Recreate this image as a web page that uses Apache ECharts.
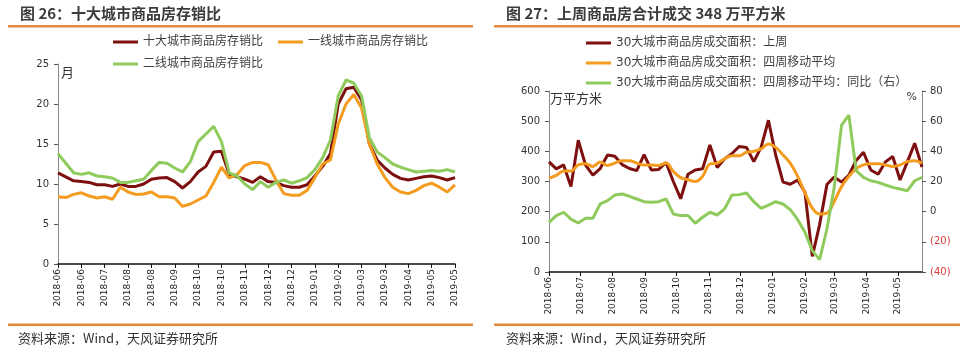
<!DOCTYPE html>
<html>
<head>
<meta charset="utf-8">
<script src="https://cdn.jsdelivr.net/npm/echarts@6/dist/echarts.min.js"></script>
<style>
  html, body { margin: 0; padding: 0; background: #fff; }
  #chart { width: 980px; height: 353px; }
</style>
</head>
<body>
<div id="chart"></div>
<script>
// weekly dates shared by both panels
const weeks = [
  '2018-06-01', '2018-06-08', '2018-06-15', '2018-06-22', '2018-06-29',
  '2018-07-06', '2018-07-13', '2018-07-20', '2018-07-27',
  '2018-08-03', '2018-08-10', '2018-08-17', '2018-08-24', '2018-08-31',
  '2018-09-07', '2018-09-14', '2018-09-21', '2018-09-28',
  '2018-10-05', '2018-10-12', '2018-10-19', '2018-10-26',
  '2018-11-02', '2018-11-09', '2018-11-16', '2018-11-23', '2018-11-30',
  '2018-12-07', '2018-12-14', '2018-12-21', '2018-12-28',
  '2019-01-04', '2019-01-11', '2019-01-18', '2019-01-25',
  '2019-02-01', '2019-02-08', '2019-02-15', '2019-02-22',
  '2019-03-01', '2019-03-08', '2019-03-15', '2019-03-22', '2019-03-29',
  '2019-04-05', '2019-04-12', '2019-04-19', '2019-04-26',
  '2019-05-03', '2019-05-10', '2019-05-17', '2019-05-24'
]

// 图26 存销比 (月)
const tenCities = [11.4, 10.9, 10.4, 10.3, 10.2, 9.9, 9.9, 9.7, 10.0, 9.7,
  9.7, 10.0, 10.6, 10.75, 10.8, 10.3, 9.5, 10.3, 11.5, 12.2,
  14.0, 14.1, 11.2, 10.9, 10.6, 10.2, 10.9, 10.3, 10.2, 9.8,
  9.6, 9.6, 9.9, 11.0, 12.2, 13.8, 20.0, 21.9, 22.1, 20.5,
  15.0, 13.0, 12.0, 11.2, 10.7, 10.5, 10.7, 10.9, 11.0, 10.8,
  10.5, 10.8]
const tier1 = [8.4, 8.3, 8.7, 8.9, 8.5, 8.25, 8.4, 8.1, 9.6, 9.0,
  8.7, 8.75, 9.0, 8.4, 8.4, 8.25, 7.2, 7.5, 8.0, 8.5,
  10.2, 12.1, 10.75, 11.2, 12.3, 12.7, 12.7, 12.4, 10.5, 8.8,
  8.6, 8.6, 9.2, 10.8, 12.5, 13.0, 17.5, 20.0, 21.2, 19.5,
  15.0, 12.5, 10.8, 9.6, 9.0, 8.8, 9.2, 9.8, 10.1, 9.6,
  9.0, 9.9]
const tier2 = [13.8, 12.6, 11.4, 11.2, 11.4, 11.0, 10.9, 10.75, 10.2, 10.2,
  10.4, 10.6, 11.7, 12.7, 12.6, 12.0, 11.5, 12.8, 15.3, 16.25,
  17.2, 15.3, 11.4, 11.0, 10.0, 9.3, 10.3, 9.6, 10.2, 10.5,
  10.1, 10.4, 10.8, 11.8, 13.3, 15.5, 21.0, 23.0, 22.6, 21.0,
  15.8, 14.0, 13.3, 12.5, 12.1, 11.8, 11.5, 11.6, 11.7, 11.6,
  11.8, 11.5]

// 图27 成交面积 (万平方米) and 同比 (%)
const weekly = [365, 342, 355, 283, 437, 354, 321, 343, 388, 384,
  356, 343, 336, 389, 338, 340, 363, 300, 243, 324,
  338, 342, 421, 346, 375, 392, 416, 413, 366, 413,
  503, 387, 298, 291, 305, 264, 52, 157, 290, 315,
  298, 321, 370, 397, 338, 324, 365, 383, 305, 365,
  427, 348]
const ma4 = [311, 320, 335, 335, 355, 359, 350, 365, 353, 361,
  369, 369, 361, 355, 355, 353, 361, 333, 313, 306,
  300, 317, 358, 361, 375, 385, 385, 397, 400, 408,
  424, 413, 388, 360, 317, 262, 212, 192, 195, 234,
  283, 317, 342, 355, 359, 359, 355, 350, 355, 366,
  369, 361]
const ma4Yoy = [-7.1, -2.6, -0.4, -4.9, -7.5, -4.4, -4.4, 5.1, 7.3, 11.0,
  11.7, 10.2, 8.4, 6.6, 6.2, 6.6, 8.4, -1.5, -2.6, -2.6,
  -7.7, -3.7, -0.4, -2.2, 1.8, 11.0, 11.3, 12.4, 6.6, 2.2,
  4.4, 6.6, 5.1, 1.3, -5.3, -13.7, -25.8, -31.8, -11.5, 16.1,
  57.4, 64.0, 27.2, 22.7, 20.5, 19.4, 17.7, 16.1, 15.0, 13.9,
  20.5, 22.7]

const C_RED = '#7d0f0f'
const C_ORANGE = '#f39c1f'
const C_GREEN = '#8fcb5c'
const RULE = '#e38a3c'
const FONT = "'DejaVu Sans', 'Noto Sans CJK SC', sans-serif"
const CJK = "'Noto Sans CJK SC', sans-serif"

const ym = (d) => {
  const t = new Date(d)
  return t.getFullYear() + '-' + String(t.getMonth() + 1).padStart(2, '0')
}
const pairs = (vals) => weeks.map((d, i) => [d, vals[i]])

const chart = echarts.init(document.getElementById('chart'))

const legendBase = {
  icon: 'rect',
  itemWidth: 25,
  itemHeight: 3,
  itemGap: 15,
  padding: 0,
  textStyle: { fontFamily: FONT, fontSize: 12, color: '#404040' },
}

const lineBase = {
  type: 'line',
  symbol: 'none',
  lineStyle: { width: 3 },
  animation: false,
}

chart.setOption({
  animation: false,
  textStyle: { fontFamily: FONT },
  title: [
    { text: '图 26：十大城市商品房存销比', left: 20, top: 6, padding: 0,
      textStyle: { fontFamily: CJK, fontSize: 15, fontWeight: 'bold', color: '#3c3c3c' } },
    { text: '图 27：上周商品房合计成交 348 万平方米', left: 506, top: 6, padding: 0,
      textStyle: { fontFamily: CJK, fontSize: 15, fontWeight: 'bold', color: '#3c3c3c' } },
    { text: '资料来源：Wind，天风证券研究所', left: 18, top: 332, padding: 0,
      textStyle: { fontFamily: CJK, fontSize: 13, fontWeight: 'normal', color: '#333' } },
    { text: '资料来源：Wind，天风证券研究所', left: 506, top: 332, padding: 0,
      textStyle: { fontFamily: CJK, fontSize: 13, fontWeight: 'normal', color: '#333' } },
  ],
  graphic: [
    { type: 'rect', shape: { x: 8, y: 25, width: 465, height: 2.5 }, style: { fill: RULE } },
    { type: 'rect', shape: { x: 494, y: 25, width: 466, height: 2.5 }, style: { fill: RULE } },
    { type: 'rect', shape: { x: 8, y: 323.5, width: 465, height: 2.5 }, style: { fill: RULE } },
    { type: 'rect', shape: { x: 494, y: 323.5, width: 466, height: 2.5 }, style: { fill: RULE } },
  ],
  legend: [
    { ...legendBase, left: 113, top: 36, data: ['十大城市商品房存销比', '一线城市商品房存销比'] },
    { ...legendBase, left: 113, top: 58, data: ['二线城市商品房存销比'] },
    { ...legendBase, left: 586, top: 37, orient: 'vertical', itemGap: 8,
      data: ['30大城市商品房成交面积：上周', '30大城市商品房成交面积：四周移动平均',
        '30大城市商品房成交面积：四周移动平均：同比（右）'] },
  ],
  grid: [
    { left: 58, top: 64, width: 397, height: 200 },
    { left: 549, top: 91, width: 373, height: 181 },
  ],
  xAxis: [
    {
      gridIndex: 0,
      type: 'category',
      data: weeks,
      boundaryGap: false,
      axisLine: { lineStyle: { color: '#111', width: 1.5 } },
      axisTick: { interval: 2, length: 4, lineStyle: { color: '#111' } },
      axisLabel: { interval: 2, rotate: 90, fontSize: 9, color: '#222', margin: 5,
        formatter: (v) => ym(v) },
    },
    {
      gridIndex: 1,
      type: 'time',
      min: new Date(2018, 5, 1).getTime(),
      max: new Date(2019, 4, 24).getTime(),
      splitNumber: 12,
      splitLine: { show: false },
      axisLine: { lineStyle: { color: '#111', width: 1.5 } },
      axisTick: { length: 4, lineStyle: { color: '#111' } },
      minorTick: { show: false },
      axisLabel: { rotate: 90, fontSize: 9, color: '#222', margin: 5,
        showMaxLabel: false, formatter: (v) => ym(v) },
    },
  ],
  yAxis: [
    {
      gridIndex: 0,
      type: 'value',
      min: 0, max: 25, interval: 5,
      name: '月',
      nameLocation: 'end',
      nameGap: -2,
      nameTextStyle: { fontFamily: CJK, fontSize: 13, color: '#333', align: 'left',
        verticalAlign: 'top', padding: [0, 0, 0, 3] },
      splitLine: { show: false },
      axisLine: { show: true, lineStyle: { color: '#888' } },
      axisTick: { show: true, length: 4, lineStyle: { color: '#555' } },
      axisLabel: { fontSize: 10, color: '#333', margin: 9 },
    },
    {
      gridIndex: 1,
      type: 'value',
      min: 0, max: 600, interval: 100,
      name: '万平方米',
      nameLocation: 'end',
      nameGap: -1,
      nameTextStyle: { fontFamily: CJK, fontSize: 13, color: '#333', align: 'left',
        verticalAlign: 'top', padding: [0, 0, 0, 1] },
      splitLine: { show: false },
      axisLine: { show: true, lineStyle: { color: '#888' } },
      axisTick: { show: true, length: 4, lineStyle: { color: '#555' } },
      axisLabel: { fontSize: 10, color: '#333', margin: 9 },
    },
    {
      gridIndex: 1,
      type: 'value',
      position: 'right',
      min: -40, max: 80, interval: 20,
      name: '%',
      nameLocation: 'end',
      nameGap: -1,
      nameTextStyle: { fontSize: 11, color: '#333', align: 'right',
        verticalAlign: 'top', padding: [0, 5, 0, 0] },
      splitLine: { show: false },
      axisLine: { show: true, lineStyle: { color: '#888' } },
      axisTick: { show: true, length: 4, lineStyle: { color: '#555' } },
      axisLabel: {
        fontSize: 10, color: '#333', margin: 8,
        formatter: (v) => (v < 0 ? '{neg|(' + -v + ')}' : String(v)),
        rich: { neg: { fontSize: 10, color: '#d9403a' } },
      },
    },
  ],
  series: [
    { ...lineBase, name: '十大城市商品房存销比', xAxisIndex: 0, yAxisIndex: 0,
      data: tenCities, itemStyle: { color: C_RED }, lineStyle: { width: 3, color: C_RED } },
    { ...lineBase, name: '一线城市商品房存销比', xAxisIndex: 0, yAxisIndex: 0,
      data: tier1, itemStyle: { color: C_ORANGE }, lineStyle: { width: 3, color: C_ORANGE } },
    { ...lineBase, name: '二线城市商品房存销比', xAxisIndex: 0, yAxisIndex: 0,
      data: tier2, itemStyle: { color: C_GREEN }, lineStyle: { width: 3, color: C_GREEN } },
    { ...lineBase, name: '30大城市商品房成交面积：上周', xAxisIndex: 1, yAxisIndex: 1,
      data: pairs(weekly), itemStyle: { color: C_RED }, lineStyle: { width: 3, color: C_RED } },
    { ...lineBase, name: '30大城市商品房成交面积：四周移动平均', xAxisIndex: 1, yAxisIndex: 1,
      smooth: 0.4, data: pairs(ma4), itemStyle: { color: C_ORANGE },
      lineStyle: { width: 3, color: C_ORANGE } },
    { ...lineBase, name: '30大城市商品房成交面积：四周移动平均：同比（右）', xAxisIndex: 1, yAxisIndex: 2,
      data: pairs(ma4Yoy), itemStyle: { color: C_GREEN }, lineStyle: { width: 3, color: C_GREEN } },
  ],
})
</script>
</body>
</html>
